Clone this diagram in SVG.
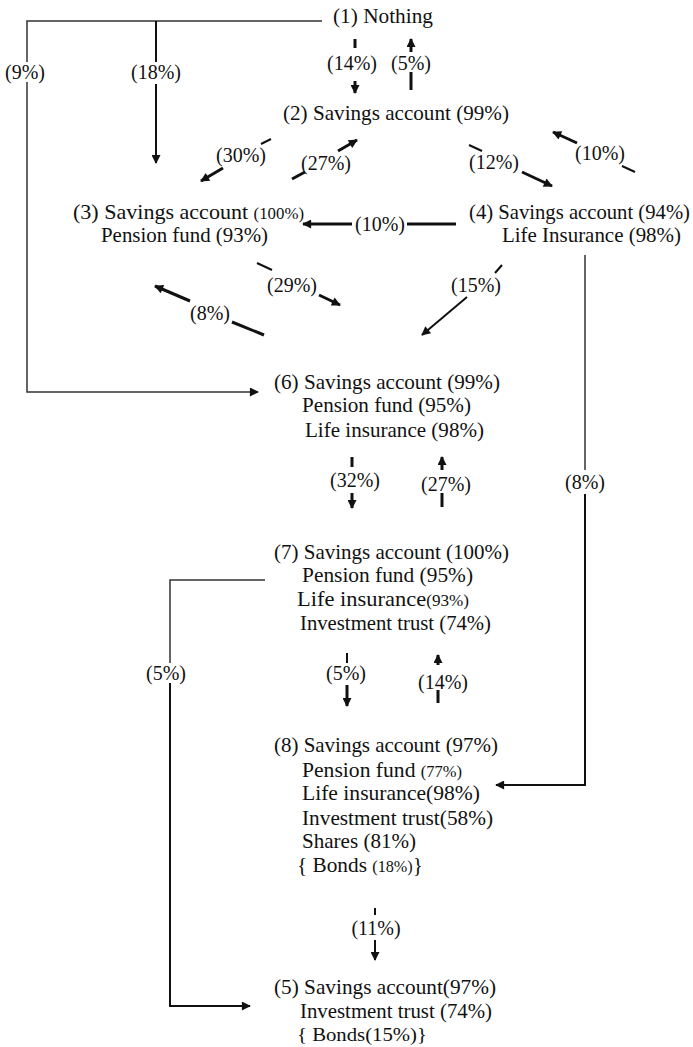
<svg xmlns="http://www.w3.org/2000/svg" width="693" height="1047" viewBox="0 0 693 1047">
<style>
text{font-family:"Liberation Serif","Times New Roman",serif;fill:#111;}
.n{font-size:21px;}
.s{font-size:16px;}
.lb{font-size:20px;text-anchor:middle;}
.thin{fill:none;stroke:#333;stroke-width:1.5;}
.med{fill:none;stroke:#111;stroke-width:2;}
.thk{fill:none;stroke:#111;stroke-width:3;}
.ah{marker-end:url(#ar);}
</style>
<defs>
<marker id="ar" viewBox="0 0 10 10" refX="9" refY="5" markerWidth="11" markerHeight="9" markerUnits="userSpaceOnUse" orient="auto">
<path d="M0,0 L10,5 L0,10 z" fill="#111"/>
</marker>
</defs>
<rect width="693" height="1047" fill="#fff"/>

<g id="connectors">
  <g id="c-1-6">
    <path class="thin" d="M322,21 H27 V62"/>
    <path class="thin ah" d="M27,82 V392 H258"/>
    <text class="lb" x="25" y="79">(9%)</text>
  </g>
  <g id="c-1-3">
    <path class="med" d="M156,21 V62"/>
    <path class="med ah" d="M156,84 V163"/>
    <text class="lb" x="156" y="79">(18%)</text>
  </g>
  <g id="c-1-2">
    <path class="thk" d="M355,39 V48"/>
    <path class="thk ah" d="M355,81 V93"/>
    <text class="lb" x="352" y="70">(14%)</text>
  </g>
  <g id="c-2-1">
    <path class="thk ah" d="M411,52 V39"/>
    <path class="thk" d="M411,72 V90"/>
    <text class="lb" x="411" y="70">(5%)</text>
  </g>
  <g id="c-2-3">
    <path class="med" d="M271,139 L261,144"/>
    <path class="thk ah" d="M223,168 L201,181"/>
    <text class="lb" x="241" y="162">(30%)</text>
  </g>
  <g id="c-3-2">
    <path class="thk" d="M292,179 L305,172"/>
    <path class="thk ah" d="M338,151 L357,140"/>
    <text class="lb" x="326" y="170">(27%)</text>
  </g>
  <g id="c-2-4">
    <path class="med" d="M469,145 L482,151"/>
    <path class="thk ah" d="M522,172 L552,186"/>
    <text class="lb" x="494" y="169">(12%)</text>
  </g>
  <g id="c-4-2">
    <path class="thk ah" d="M577,143 L553,132"/>
    <path class="med" d="M622,166 L635,172"/>
    <text class="lb" x="600" y="160">(10%)</text>
  </g>
  <g id="c-4-3">
    <path class="thk ah" d="M352,224 H303"/>
    <path class="thk" d="M407,224 H456"/>
    <text class="lb" x="380" y="231">(10%)</text>
  </g>
  <g id="c-3-6">
    <path class="med" d="M257,263 L272,270"/>
    <path class="thk ah" d="M319,295 L340,305"/>
    <text class="lb" x="292" y="292">(29%)</text>
  </g>
  <g id="c-6-3">
    <path class="thk ah" d="M190,301 L155,286"/>
    <path class="thk" d="M232,322 L264,335"/>
    <text class="lb" x="210" y="320">(8%)</text>
  </g>
  <g id="c-4-6">
    <path class="med" d="M502,265 L495,273"/>
    <path class="med ah" d="M467,297 L422,335"/>
    <text class="lb" x="476" y="292">(15%)</text>
  </g>
  <g id="c-4-8">
    <path class="thin" d="M585,255 V470"/>
    <path class="med ah" d="M585,494 V785 H496"/>
    <text class="lb" x="585" y="489">(8%)</text>
  </g>
  <g id="c-6-7">
    <path class="thk" d="M352,457 V467"/>
    <path class="thk ah" d="M352,493 V508"/>
    <text class="lb" x="355" y="487">(32%)</text>
  </g>
  <g id="c-7-6">
    <path class="thk ah" d="M442,470 V457"/>
    <path class="thk" d="M442,493 V507"/>
    <text class="lb" x="446" y="491">(27%)</text>
  </g>
  <g id="c-7-8">
    <path class="med" d="M347,653 V663"/>
    <path class="thk ah" d="M347,685 V706"/>
    <text class="lb" x="346" y="680">(5%)</text>
  </g>
  <g id="c-8-7">
    <path class="thk ah" d="M438,665 V655"/>
    <path class="thk" d="M438,690 V703"/>
    <text class="lb" x="443" y="689">(14%)</text>
  </g>
  <g id="c-8-5">
    <path class="med" d="M375,908 V915"/>
    <path class="med ah" d="M375,940 V960"/>
    <text class="lb" x="376" y="935">(11%)</text>
  </g>
  <g id="c-7-5">
    <path class="thin" d="M265,580 H170 V663"/>
    <path class="med ah" d="M170,683 V1006 H250"/>
    <text class="lb" x="166" y="680">(5%)</text>
  </g>
</g>

<g id="n1">
  <text class="n" x="333" y="23" textLength="100" lengthAdjust="spacingAndGlyphs">(1) Nothing</text>
</g>
<g id="n2">
  <text class="n" x="283" y="120" textLength="226" lengthAdjust="spacingAndGlyphs">(2) Savings account (99%)</text>
</g>
<g id="n3">
  <text class="n" x="73" y="219" textLength="231" lengthAdjust="spacingAndGlyphs">(3) Savings account <tspan class="s">(100%)</tspan></text>
  <text class="n" x="101" y="242" textLength="167" lengthAdjust="spacingAndGlyphs">Pension fund (93%)</text>
</g>
<g id="n4">
  <text class="n" x="469" y="219" textLength="221" lengthAdjust="spacingAndGlyphs">(4) Savings account (94%)</text>
  <text class="n" x="502" y="242" textLength="179" lengthAdjust="spacingAndGlyphs">Life Insurance (98%)</text>
</g>
<g id="n6">
  <text class="n" x="274" y="389" textLength="226" lengthAdjust="spacingAndGlyphs">(6) Savings account (99%)</text>
  <text class="n" x="302" y="412" textLength="169" lengthAdjust="spacingAndGlyphs">Pension fund (95%)</text>
  <text class="n" x="305" y="437" textLength="179" lengthAdjust="spacingAndGlyphs">Life insurance (98%)</text>
</g>
<g id="n7">
  <text class="n" x="274" y="559" textLength="235" lengthAdjust="spacingAndGlyphs">(7) Savings account (100%)</text>
  <text class="n" x="302" y="582" textLength="171" lengthAdjust="spacingAndGlyphs">Pension fund (95%)</text>
  <text class="n" x="297" y="606" textLength="172" lengthAdjust="spacingAndGlyphs">Life insurance<tspan class="s">(93%)</tspan></text>
  <text class="n" x="300" y="630" textLength="191" lengthAdjust="spacingAndGlyphs">Investment trust (74%)</text>
</g>
<g id="n8">
  <text class="n" x="274" y="752" textLength="224" lengthAdjust="spacingAndGlyphs">(8) Savings account (97%)</text>
  <text class="n" x="302" y="777" textLength="160" lengthAdjust="spacingAndGlyphs">Pension fund <tspan class="s">(77%)</tspan></text>
  <text class="n" x="302" y="800" textLength="178" lengthAdjust="spacingAndGlyphs">Life insurance(98%)</text>
  <text class="n" x="302" y="825" textLength="191" lengthAdjust="spacingAndGlyphs">Investment trust(58%)</text>
  <text class="n" x="302" y="848" textLength="114" lengthAdjust="spacingAndGlyphs">Shares (81%)</text>
  <text class="n" x="297" y="872" textLength="126" lengthAdjust="spacingAndGlyphs">{ Bonds <tspan class="s">(18%)</tspan>}</text>
</g>
<g id="n5">
  <text class="n" x="274" y="994" textLength="222" lengthAdjust="spacingAndGlyphs">(5) Savings account(97%)</text>
  <text class="n" x="300" y="1018" textLength="192" lengthAdjust="spacingAndGlyphs" style="font-size:20px">Investment trust (74%)</text>
  <text class="n" x="297" y="1041" textLength="130" lengthAdjust="spacingAndGlyphs" style="font-size:19px">{ Bonds(15%)}</text>
</g>
</svg>
